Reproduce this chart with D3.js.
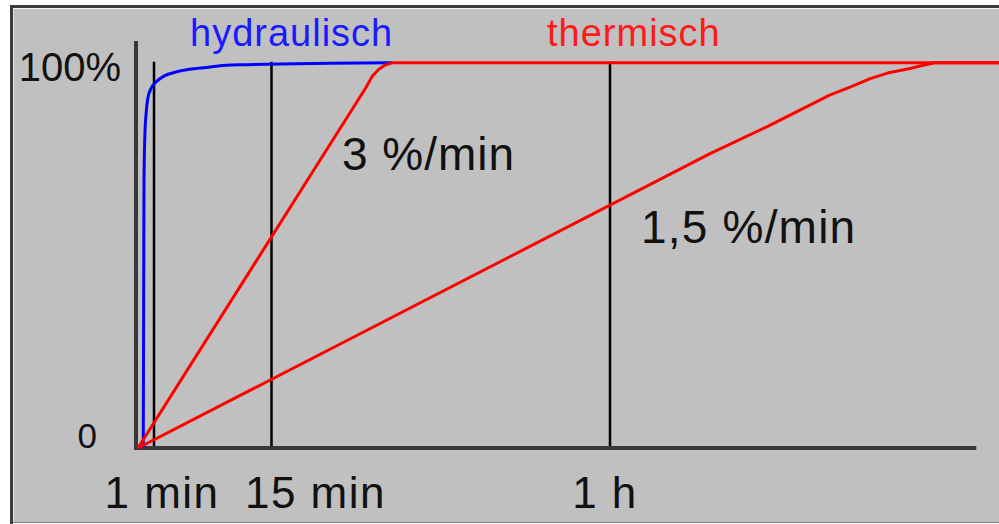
<!DOCTYPE html>
<html>
<head>
<meta charset="utf-8">
<script src="https://cdn.jsdelivr.net/npm/d3@7"></script>
<style>
  body { margin: 0; background: #fff; }
  text { font-family: "Liberation Sans", Arial, sans-serif; }
</style>
</head>
<body>
<svg id="chart"></svg>
<script>
// Time in minutes, output in percent (schematic chart)
const tickValues = [1, 15, 60];
const tickLabels = ["1 min", "15 min", "1 h"];
const yTickValues = [0, 100];
const yTickLabels = ["0", "100%"];
const seriesNames = ["hydraulisch", "thermisch"];
const rateLabels = ["3 %/min", "1,5 %/min"];

// hydraulisch
const hydraulT = [0.31, 0.33, 0.375, 0.44, 0.5, 0.61, 0.81, 1.24, 2.23, 3.62, 5.21, 7.2, 9.58, 11.96, 16.1, 22.8, 31];
const hydraulP = [0, 2, 69.5, 82.5, 86.4, 90.7, 93.3, 95.0, 96.6, 97.6, 98.3, 98.8, 99.35, 99.5, 99.7, 99.9, 100];

// thermisch 3 %/min
const therm3T = [0, 27.5, 28.4, 29.2, 30.1, 31, 112];
const therm3P = [0, 93.4, 96.5, 98.2, 99.4, 100, 100];

// thermisch 1,5 %/min
const therm15T = [0, 73.3, 81.3, 89.2, 91.9, 94.6, 97.2, 99.9, 101.6, 103.2, 112];
const therm15P = [0, 76.4, 83.8, 91.6, 93.7, 95.9, 97.5, 98.5, 99.35, 100, 100];

const axisEndT = 108.7;

const width = 999, height = 524;
const svg = d3.select("#chart")
  .attr("width", width)
  .attr("height", height);

// piecewise time axis, like the picture (not to scale)
const x = d3.scaleLinear()
  .domain([0, 1, 15, 60])
  .range([138, 154, 271.5, 610]);

const y = d3.scaleLinear()
  .domain([0, 100])
  .range([448, 62.8]);

// frame
svg.append("rect")
  .attr("x", 11).attr("y", 6)
  .attr("width", 1000).attr("height", 517)
  .attr("fill", "#c0c0c0");
svg.append("line")
  .attr("x1", 10).attr("x2", 1000).attr("y1", 6.5).attr("y2", 6.5)
  .attr("stroke", "#3c3c3c").attr("stroke-width", 3);
svg.append("line")
  .attr("x1", 11.5).attr("x2", 11.5).attr("y1", 5).attr("y2", 524)
  .attr("stroke", "#3c3c3c").attr("stroke-width", 3);
svg.append("line")
  .attr("x1", 13).attr("x2", 1000).attr("y1", 8.5).attr("y2", 8.5)
  .attr("stroke", "#f4f4f4").attr("stroke-width", 1);
svg.append("line")
  .attr("x1", 13.5).attr("x2", 13.5).attr("y1", 8).attr("y2", 522)
  .attr("stroke", "#e4e4e4").attr("stroke-width", 1);
svg.append("line")
  .attr("x1", 13).attr("x2", 1000).attr("y1", 522.5).attr("y2", 522.5)
  .attr("stroke", "#808080").attr("stroke-width", 1);

// vertical grid lines at the time ticks
svg.selectAll(".grid")
  .data(tickValues)
  .enter()
  .append("line")
  .attr("class", "grid")
  .attr("x1", d => x(d)).attr("x2", d => x(d))
  .attr("y1", y(100) - 1).attr("y2", y(0))
  .attr("stroke", "#000")
  .attr("stroke-width", 2.5);

// axes
svg.append("line")
  .attr("x1", x(0) - 2).attr("x2", x(0) - 2)
  .attr("y1", 41).attr("y2", y(0) + 2)
  .attr("stroke", "#383838").attr("stroke-width", 4);
svg.append("line")
  .attr("x1", x(0) - 4).attr("x2", x(axisEndT))
  .attr("y1", y(0)).attr("y2", y(0))
  .attr("stroke", "#383838").attr("stroke-width", 4);

// curves
const line = d3.line()
  .x(d => x(d[0]))
  .y(d => y(d[1]));

svg.append("path")
  .datum(d3.zip(hydraulT, hydraulP))
  .attr("d", line.curve(d3.curveMonotoneX))
  .attr("fill", "none")
  .attr("stroke", "#0000ff")
  .attr("stroke-width", 3);

line.curve(d3.curveLinear);
[d3.zip(therm15T, therm15P), d3.zip(therm3T, therm3P)].forEach(pts => {
  svg.append("path")
    .datum(pts)
    .attr("d", line)
    .attr("fill", "none")
    .attr("stroke", "#ff0000")
    .attr("stroke-width", 3)
    .attr("stroke-linejoin", "round");
});

// x tick labels (shifted as in the picture)
const labelShift = [8, 44, -5];
svg.selectAll(".xlabel")
  .data(tickValues)
  .enter()
  .append("text")
  .attr("class", "xlabel")
  .attr("x", (d, i) => x(d) + labelShift[i])
  .attr("y", 508)
  .attr("text-anchor", "middle")
  .attr("font-size", 44)
  .attr("letter-spacing", 1.5)
  .attr("fill", "#111")
  .text((d, i) => tickLabels[i]);

// y tick labels
svg.selectAll(".ylabel")
  .data(yTickValues)
  .enter()
  .append("text")
  .attr("class", "ylabel")
  .attr("x", (d, i) => i === 0 ? 97 : 121)
  .attr("y", d => y(d) + (d === 0 ? 0 : 18))
  .attr("text-anchor", "end")
  .attr("font-size", (d, i) => i === 0 ? 35 : 40)
  .attr("fill", "#111")
  .text((d, i) => yTickLabels[i]);

// series titles
svg.append("text")
  .attr("x", 190).attr("y", 46)
  .attr("font-size", 38).attr("letter-spacing", 1)
  .attr("fill", "#1a1aff")
  .text(seriesNames[0]);
svg.append("text")
  .attr("x", 547).attr("y", 46)
  .attr("font-size", 38).attr("letter-spacing", 1)
  .attr("fill", "#ff1a1a")
  .text(seriesNames[1]);

// rate labels
svg.append("text")
  .attr("x", 342).attr("y", 170)
  .attr("font-size", 46).attr("letter-spacing", 1)
  .attr("fill", "#111")
  .text(rateLabels[0]);
svg.append("text")
  .attr("x", 641).attr("y", 243)
  .attr("font-size", 46).attr("letter-spacing", 1.2)
  .attr("fill", "#111")
  .text(rateLabels[1]);
</script>
</body>
</html>
